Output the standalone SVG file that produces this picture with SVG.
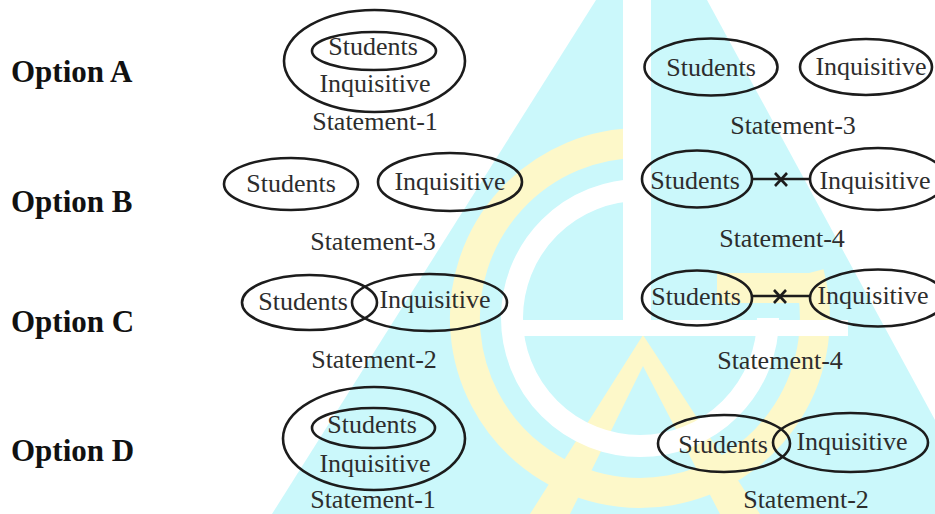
<svg xmlns="http://www.w3.org/2000/svg" width="935" height="514" viewBox="0 0 935 514">
  <style>
    .opt { font-family: "Liberation Serif", "Times New Roman", serif; font-weight: bold; font-size: 31px; fill: #111; }
    .lbl { font-family: "Liberation Serif", "Times New Roman", serif; font-size: 26px; fill: #2d2d2d; text-anchor: middle; }
    .set { fill: none; stroke: #1c1c1c; stroke-width: 2.6; }
    .link { stroke: #1c1c1c; stroke-width: 2.6; fill: none; }
  </style>

  <!-- background logo -->
  <g id="backdrop">
    <rect x="0" y="0" width="935" height="514" fill="#ffffff"/>
    <polygon points="596,0 707,0 935,420 935,514 272,514" fill="#cbf8fb"/>
    <path d="M 640 143 A 175 175 0 1 0 809 273" fill="none" stroke="#fdf8c9" stroke-width="30"/>
    <rect x="717" y="273" width="92" height="30" fill="#fdf8c9"/>
    <polygon points="643,335 760,514 720,514 643,366 570,514 530,514" fill="#fdf8c9"/>
    <path d="M 640 190 A 128 128 0 1 0 768 318" fill="none" stroke="#ffffff" stroke-width="22"/>
    <rect x="623" y="0" width="28" height="320" fill="#ffffff"/>
    <rect x="503" y="320" width="345" height="16" fill="#ffffff"/>
  </g>

  <!-- option captions -->
  <g id="options">
    <text class="opt" x="11" y="82">Option A</text>
    <text class="opt" x="11" y="212">Option B</text>
    <text class="opt" x="11" y="332">Option C</text>
    <text class="opt" x="11" y="461">Option D</text>
  </g>

  <!-- Option A -->
  <g id="a1-inquisitive">
    <ellipse class="set" cx="374.5" cy="61" rx="90.5" ry="51"/>
    <text class="lbl" x="375" y="92">Inquisitive</text>
  </g>
  <g id="a1-students">
    <ellipse class="set" cx="374" cy="51" rx="62" ry="19"/>
    <text class="lbl" x="373" y="55">Students</text>
  </g>
  <text id="a1-caption" class="lbl" x="375" y="130">Statement-1</text>

  <g id="a2-students">
    <ellipse class="set" cx="711" cy="67" rx="66.5" ry="28.5"/>
    <text class="lbl" x="711" y="76">Students</text>
  </g>
  <g id="a2-inquisitive">
    <ellipse class="set" cx="866" cy="67" rx="66" ry="28"/>
    <text class="lbl" x="871" y="75">Inquisitive</text>
  </g>
  <text id="a2-caption" class="lbl" x="793" y="134">Statement-3</text>

  <!-- Option B -->
  <g id="b1-students">
    <ellipse class="set" cx="291" cy="184" rx="67" ry="26"/>
    <text class="lbl" x="291" y="192">Students</text>
  </g>
  <g id="b1-inquisitive">
    <ellipse class="set" cx="450" cy="182" rx="72" ry="29"/>
    <text class="lbl" x="450" y="190">Inquisitive</text>
  </g>
  <text id="b1-caption" class="lbl" x="373" y="250">Statement-3</text>

  <g id="b2-students">
    <ellipse class="set" cx="697" cy="179" rx="55" ry="28.5"/>
    <text class="lbl" x="695" y="189">Students</text>
  </g>
  <g id="b2-inquisitive">
    <ellipse class="set" cx="878" cy="179" rx="68" ry="31"/>
    <text class="lbl" x="875" y="189">Inquisitive</text>
  </g>
  <text id="b2-caption" class="lbl" x="782" y="247">Statement-4</text>

  <!-- Option C -->
  <g id="c1-students">
    <ellipse class="set" cx="309.5" cy="302.5" rx="67.5" ry="27.5"/>
    <text class="lbl" x="303" y="310">Students</text>
  </g>
  <g id="c1-inquisitive">
    <ellipse class="set" cx="429.5" cy="302.5" rx="77.5" ry="28.5"/>
    <text class="lbl" x="435" y="308">Inquisitive</text>
  </g>
  <text id="c1-caption" class="lbl" x="374" y="368">Statement-2</text>

  <g id="c2-students">
    <ellipse class="set" cx="697" cy="298" rx="55" ry="27.5"/>
    <text class="lbl" x="696" y="305">Students</text>
  </g>
  <g id="c2-inquisitive">
    <ellipse class="set" cx="878" cy="298" rx="68" ry="28.5"/>
    <text class="lbl" x="873" y="304">Inquisitive</text>
  </g>
  <text id="c2-caption" class="lbl" x="780" y="369">Statement-4</text>

  <!-- Option D -->
  <g id="d1-inquisitive">
    <ellipse class="set" cx="374" cy="438.5" rx="91" ry="51.5"/>
    <text class="lbl" x="375" y="472">Inquisitive</text>
  </g>
  <g id="d1-students">
    <ellipse class="set" cx="373.5" cy="428" rx="61.5" ry="20"/>
    <text class="lbl" x="372" y="433">Students</text>
  </g>
  <text id="d1-caption" class="lbl" x="373" y="508">Statement-1</text>

  <g id="d2-students">
    <ellipse class="set" cx="724" cy="443.5" rx="66" ry="28.5"/>
    <text class="lbl" x="723" y="453">Students</text>
  </g>
  <g id="d2-inquisitive">
    <ellipse class="set" cx="850.5" cy="442.5" rx="77.5" ry="29.5"/>
    <text class="lbl" x="852" y="450">Inquisitive</text>
  </g>
  <text id="d2-caption" class="lbl" x="806" y="508">Statement-2</text>

  <!-- crossed-out links: no relation between the two sets -->
  <g id="connectors">
    <line class="link" x1="752" y1="179" x2="810" y2="179"/>
    <path class="link" d="M 775 173 L 787 186 M 787 173 L 775 186"/>
    <line class="link" x1="752" y1="296" x2="810" y2="296"/>
    <path class="link" d="M 774 290 L 786 303 M 786 290 L 774 303"/>
  </g>
</svg>
